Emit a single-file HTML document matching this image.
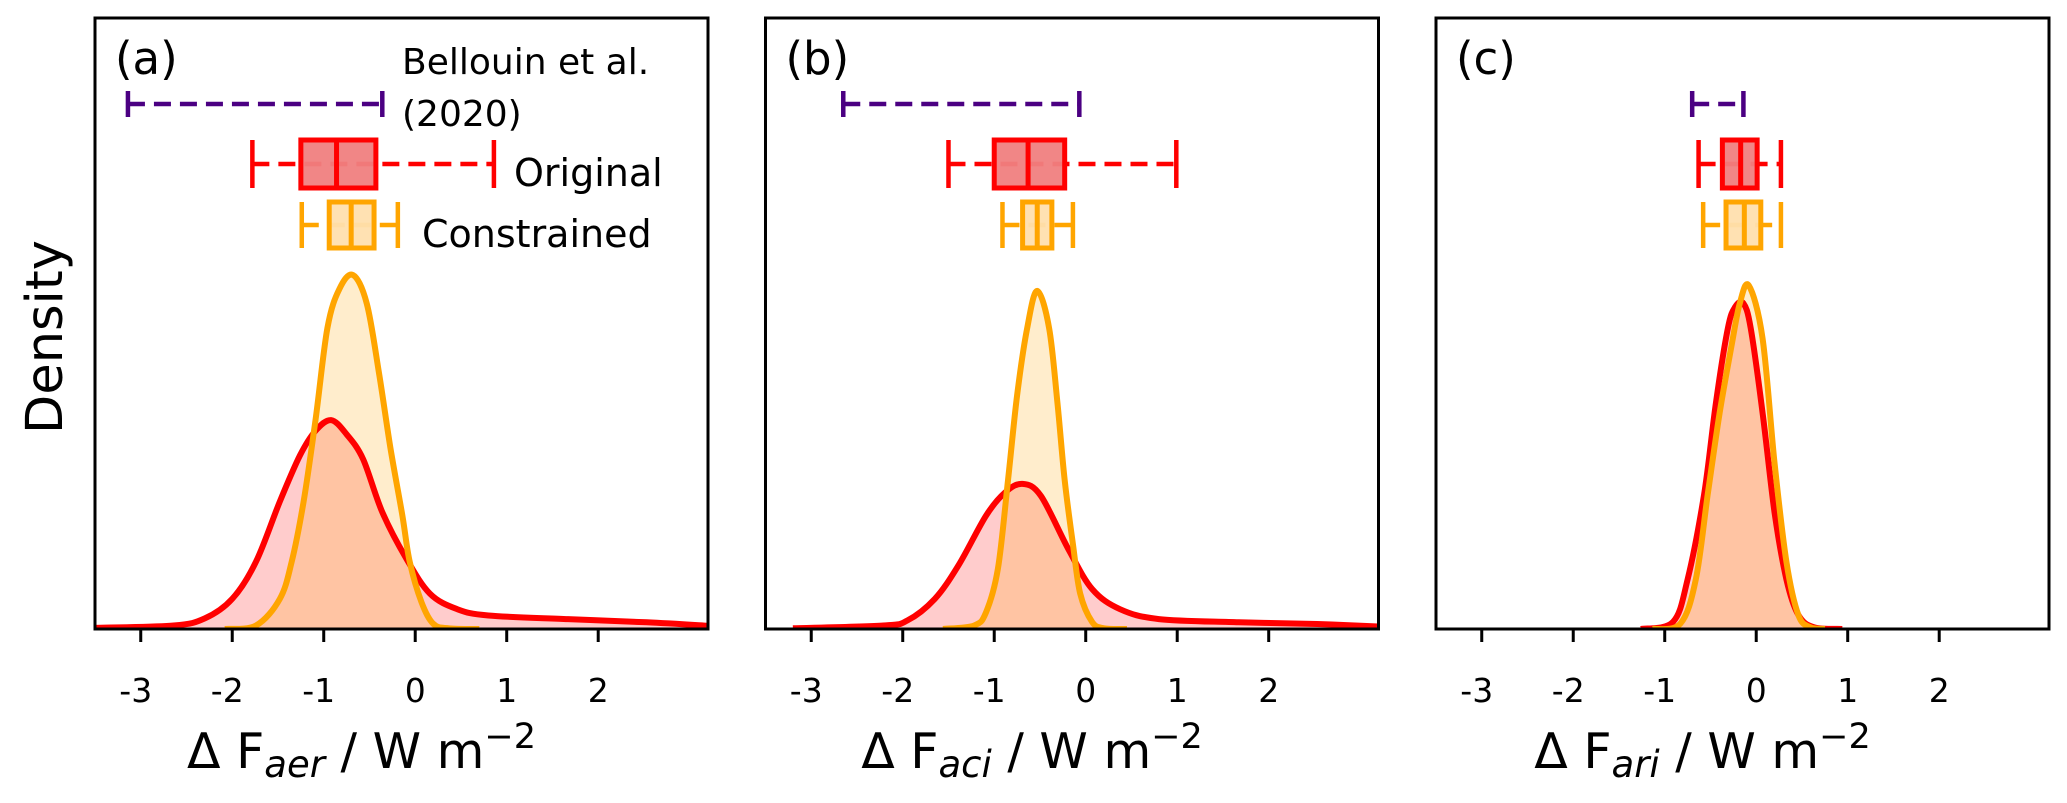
<!DOCTYPE html>
<html><head><meta charset="utf-8">
<style>
html,body{margin:0;padding:0;background:#fff;}
svg{display:block;font-family:"DejaVu Sans","Liberation Sans",sans-serif;}
</style></head>
<body>
<svg id="chart" width="2067" height="803" viewBox="0 0 2067 803" xmlns="http://www.w3.org/2000/svg">
<text x="0" y="0" transform="translate(62,337) rotate(-90)" text-anchor="middle" font-size="51">Density</text>
</svg>
<script>
// ---- data ----
const panelIds = ['a','b','c'];
const panelSubs = ['aer','aci','ari'];
const xTicks = [-3,-2,-1,0,1,2];
const xTickLabels = ['-3','-2','-1','0','1','2'];
// density curves (x, y)
const redAX = [-3.5,-2.64,-2.3,-2.0,-1.74,-1.48,-1.26,-1.09,-0.92,-0.75,-0.57,-0.36,-0.1,0.16,0.46,0.8,1.67,2.53,3.2];
const redAY = [0.003,0.01,0.03,0.085,0.19,0.36,0.49,0.56,0.59,0.55,0.48,0.33,0.2,0.1,0.056,0.038,0.028,0.019,0.009];
const orgAX = [-2.08,-1.74,-1.48,-1.35,-1.22,-1.09,-0.96,-0.83,-0.68,-0.53,-0.4,-0.27,-0.14,-0.06,0.07,0.2,0.37,0.7];
const orgAY = [0,0.01,0.085,0.19,0.36,0.59,0.85,0.96,1.0,0.92,0.73,0.51,0.32,0.19,0.075,0.014,0.002,0];
const redBX = [-3.2,-2.21,-1.95,-1.65,-1.39,-1.09,-0.88,-0.69,-0.49,-0.19,0.07,0.375,0.8,1.67,2.53,3.2];
const redBY = [0.002,0.01,0.024,0.085,0.18,0.32,0.386,0.41,0.376,0.226,0.113,0.056,0.028,0.019,0.014,0.007];
const orgBX = [-1.56,-1.22,-1.09,-0.96,-0.85,-0.75,-0.64,-0.53,-0.4,-0.31,-0.23,-0.14,-0.06,0.07,0.2,0.45];
const orgBY = [0,0.01,0.047,0.17,0.42,0.66,0.85,0.955,0.85,0.64,0.42,0.24,0.1,0.02,0.002,0];
const redCX = [-1.26,-0.91,-0.75,-0.57,-0.44,-0.31,-0.23,-0.14,-0.06,0.07,0.2,0.33,0.46,0.63,0.94];
const redCY = [0,0.02,0.14,0.38,0.64,0.85,0.91,0.92,0.85,0.61,0.33,0.14,0.04,0.005,0];
const orgCX = [-1.13,-0.83,-0.66,-0.53,-0.4,-0.27,-0.18,-0.08,0.07,0.2,0.33,0.46,0.59,0.75];
const orgCY = [0,0.015,0.14,0.38,0.61,0.8,0.92,0.97,0.82,0.47,0.19,0.04,0.005,0];
// Bellouin ranges [lo, hi]
const bellLo = [-3.14,-2.65,-0.70];
const bellHi = [-0.36,-0.07,-0.14];
// boxes: whisker lo, q1, median, q3, whisker hi
const origBox = [[-1.78,-1.25,-0.86,-0.43,0.86],[-1.50,-1.0,-0.63,-0.23,0.99],[-0.63,-0.37,-0.17,0.01,0.27]];
const consBox = [[-1.24,-0.94,-0.70,-0.45,-0.19],[-0.91,-0.69,-0.53,-0.37,-0.14],[-0.58,-0.33,-0.13,0.05,0.27]];
const redX=[redAX,redBX,redCX], redY=[redAY,redBY,redCY], orgX=[orgAX,orgBX,orgCX], orgY=[orgAY,orgBY,orgCY];

// ---- layout ----
const svg = document.getElementById('chart');
const NS = 'http://www.w3.org/2000/svg';
const panelLeft = [95, 765.5, 1436];
const PW = 613, TOP = 18, BOT = 629;
const XMIN = -3.5, XMAX = 3.2, YMAX = 611/354;
function mk(tag, attrs, parent){ const e=document.createElementNS(NS,tag); for(const k in attrs) e.setAttribute(k,attrs[k]); (parent||svg).appendChild(e); return e; }
function smooth(pts){
  let d='M'+pts[0][0].toFixed(1)+','+pts[0][1].toFixed(1);
  for(let i=0;i<pts.length-1;i++){
    const p0=pts[Math.max(0,i-1)],p1=pts[i],p2=pts[i+1],p3=pts[Math.min(pts.length-1,i+2)];
    const c1=[p1[0]+(p2[0]-p0[0])/6,p1[1]+(p2[1]-p0[1])/6];
    const c2=[p2[0]-(p3[0]-p1[0])/6,p2[1]-(p3[1]-p1[1])/6];
    d+=' C'+c1[0].toFixed(1)+','+c1[1].toFixed(1)+' '+c2[0].toFixed(1)+','+c2[1].toFixed(1)+' '+p2[0].toFixed(1)+','+p2[1].toFixed(1);
  }
  return d;
}
panelIds.forEach((id,p)=>{
  const L = panelLeft[p];
  const xs = v => L + (v - XMIN)/(XMAX - XMIN)*PW;
  const ys = v => BOT - v/YMAX*(BOT-TOP);
  const g = mk('g',{});
  
  
  const cp = mk('clipPath',{id:'clip'+id},g);
  mk('rect',{x:L,y:TOP,width:PW,height:BOT-TOP},cp);
  const plot = mk('g',{'clip-path':'url(#clip'+id+')'},g);
  const series = [['red','#ff0000',redX[p],redY[p]],['orange','#ffa500',orgX[p],orgY[p]]];
  const lines=[];
  series.forEach(s=>{
    const pts = s[2].map((x,i)=>[xs(x),ys(s[3][i])]);
    const d = smooth(pts);
    const f = mk('path',{d:d+' L'+pts[pts.length-1][0].toFixed(1)+','+BOT+' L'+pts[0][0].toFixed(1)+','+BOT+' Z',fill:s[1],'fill-opacity':0.2,stroke:'none'},plot);
    
    
    lines.push([s,d]);
  });
  lines.forEach(l=>{
    const ln = mk('path',{d:l[1],fill:'none',stroke:l[0][1],'stroke-width':6,'stroke-linejoin':'round'},plot);
    
    
  });
  const by = 104;
  const bl = mk('line',{x1:xs(bellLo[p]),x2:xs(bellHi[p]),y1:by,y2:by,stroke:'#4b0082','stroke-width':4.5,'stroke-dasharray':'17,9'},g);
  
  
  [bellLo[p],bellHi[p]].forEach(v=>{ mk('line',{x1:xs(v),x2:xs(v),y1:by-13,y2:by+13,stroke:'#4b0082','stroke-width':4.5},g); });
  const boxes = [['original',origBox[p],'#ff0000','#f08080',164,48],['constrained',consBox[p],'#ffa500','#ffdfae',225,46]];
  boxes.forEach(b=>{
    const v=b[1], cy=b[4], h=b[5];
    const wl = mk('line',{x1:xs(v[0]),x2:xs(v[4]),y1:cy,y2:cy,stroke:b[2],'stroke-width':4.5,'stroke-dasharray':'17,9'},g);
    
    
    [v[0],v[4]].forEach(c=>{ mk('line',{x1:xs(c),x2:xs(c),y1:cy-h/2,y2:cy+h/2,stroke:b[2],'stroke-width':4.5},g); });
    const r = mk('rect',{x:xs(v[1]),y:cy-h/2,width:xs(v[3])-xs(v[1]),height:h,fill:b[3],'fill-opacity':0.95,stroke:b[2],'stroke-width':5},g);
    
    
    mk('line',{x1:xs(v[2]),x2:xs(v[2]),y1:cy-h/2,y2:cy+h/2,stroke:b[2],'stroke-width':5},g);
  });
  const fr = mk('rect',{x:L,y:TOP,width:PW,height:BOT-TOP,fill:'none',stroke:'#000','stroke-width':3},g);
  
  
  xTicks.forEach((t,i)=>{
    mk('line',{x1:xs(t),x2:xs(t),y1:BOT,y2:BOT+13,stroke:'#000','stroke-width':3},g);
    const tl = mk('text',{x:xs(t)-(t<0?5:0),y:702,'text-anchor':'middle','font-size':33},g);
    tl.textContent = xTickLabels[i];
    
    
  });
  const pl = mk('text',{x:L+20,y:74,'font-size':45},g);
  pl.textContent='('+id+')';
  
  
  const xt = mk('text',{x:L+PW/2-40,y:768,'text-anchor':'middle','font-size':49},g);
  
  
  xt.innerHTML = 'Δ F<tspan font-style="italic" font-size="37" dy="9">'+panelSubs[p]+'</tspan><tspan dy="-9"> / W m</tspan><tspan font-size="35" dy="-20">−2</tspan>';
});
function lt(txt,x,y,fs,name){ const t=mk('text',{x:x,y:y,'font-size':fs}); t.textContent=txt;   }
lt('Bellouin et al.',402,74,36,'legend-bellouin');
lt('(2020)',402,126,36,'legend-bellouin-year');
lt('Original',514,186,38,'legend-original');
lt('Constrained',422,247,38,'legend-constrained');
</script>
</body></html>
